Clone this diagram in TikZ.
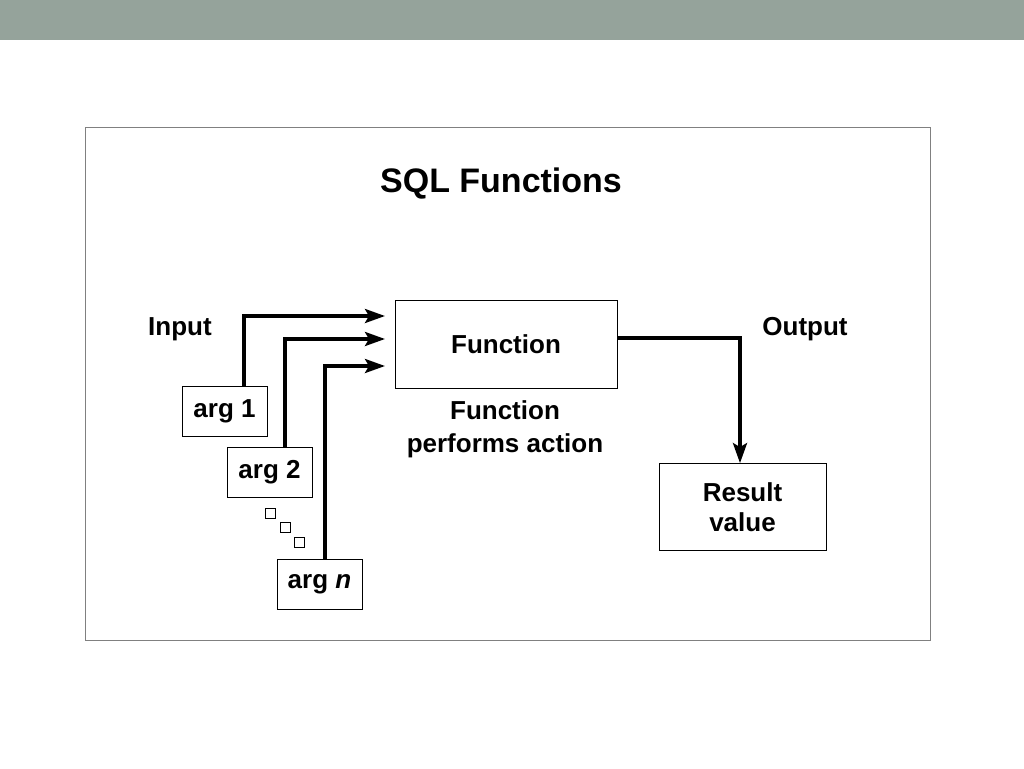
\documentclass[tikz,border=0pt]{standalone}
\usepackage{fontspec}
\setmainfont{Liberation Sans}
\usetikzlibrary{arrows.meta}
\definecolor{barcolor}{HTML}{95A39B}
\begin{document}
\begin{tikzpicture}[x=1pt,y=-1pt,
    argbox/.style={draw,thick,minimum width=85pt,minimum height=50pt,font=\fontsize{26}{30}\selectfont\bfseries},
    flow/.style={line width=3.5pt,-{Stealth[length=20pt,width=14pt,inset=4pt]}}]
  \useasboundingbox (0,0) rectangle (1024,768);
  \fill[barcolor] (0,0) rectangle (1024,40);
  \draw[gray] (85,127) rectangle (930,640);
  \node[font=\fontsize{34}{38}\selectfont\bfseries] (title) at (501,184) {SQL Functions};
  % boxes
  \node[argbox,minimum width=222pt,minimum height=88pt] (func) at (506,344) {Function};
  \node[argbox] (arg1) at (224.5,411) {arg 1};
  \node[argbox] (arg2) at (269.5,472.5) {arg 2};
  \node[argbox] (argn) at (319.5,584) {arg \textit{n}};
  \node[argbox,minimum width=167pt,minimum height=87pt,align=center] (result) at (742.5,507) {Result\\value};
  % labels
  \node[font=\fontsize{26}{30}\selectfont\bfseries] (input) at (180,329) {Input};
  \node[font=\fontsize{26}{30}\selectfont\bfseries] (output) at (805,329) {Output};
  \node[font=\fontsize{26}{33}\selectfont\bfseries,align=center] (action) at (505,429) {Function\\performs action};
  % dots
  \foreach \px/\py in {270/513,285/527,299/542}
    \draw[thick] (\px-5,\py-5) rectangle (\px+5,\py+5);
  % connectors
  \coordinate (t1) at (385,316);
  \coordinate (t2) at (385,339);
  \coordinate (t3) at (385,366);
  \draw[flow] (arg1.north -| 244,0) |- (t1);
  \draw[flow] (arg2.north -| 285,0) |- (t2);
  \draw[flow] (argn.north -| 325,0) |- (t3);
  \coordinate (o1) at (740,338);
  \draw[flow] (func.east |- o1) -- (o1) -- (result.north -| o1);
\end{tikzpicture}
\end{document}
